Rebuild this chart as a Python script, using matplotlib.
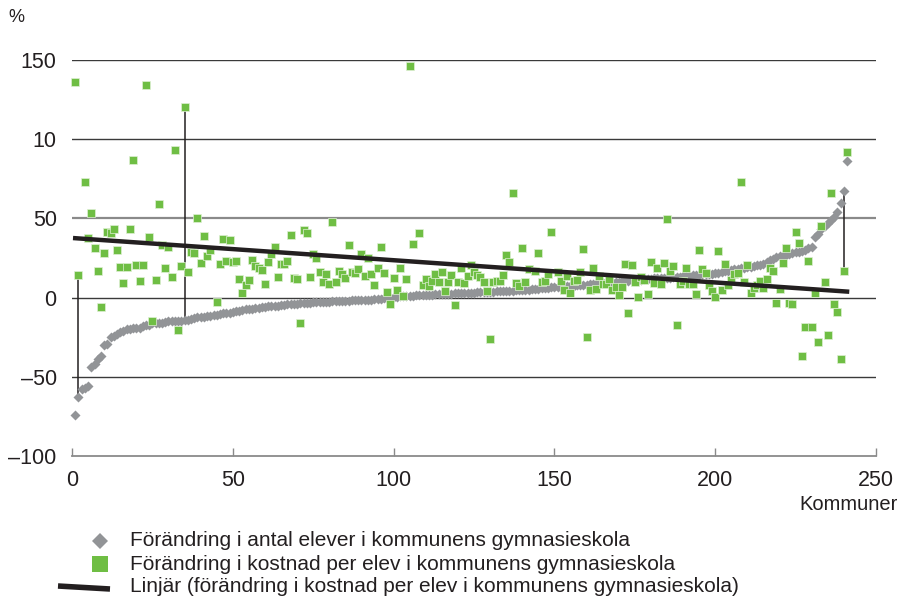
import numpy as np
from matplotlib import pyplot as plt

plt.rcParams['font.family'] = ['Liberation Sans', 'DejaVu Sans']

nan = np.nan

# förändring i antal elever (sorterad), kommun 1..241
elever = [
    -74, -63, -58, -57, -56, -44, -42, -39, -37, -30,
    -29, -25, -24, -23, -22, -21, -20, -20, -19, -19,
    -19, -18, -17, -17, -16, -16, -16, -16, -15.5, -15,
    -15, -15, -14.5, -14.5, -14, -14, -13.5, -13, -12.5, -12,
    -12, -11.5, -11.5, -11, -11, -10.5, -10, -9.5, -9.5, -9,
    -8.5, -8.5, -8, -7.5, -7.5, -7, -6.5, -6.5, -6, -6,
    -5.5, -5.5, -5, -5, -4.8, -4.5, -4.3, -4, -4, -3.8,
    -3.5, -3.4, -3.3, -3.2, -3, -3, -2.8, -2.7, -2.6, -2.5,
    -2.4, -2.3, -2.2, -2.1, -2, -1.9, -1.8, -1.7, -1.6, -1.5,
    -1.5, -1.4, -1.2, -1, -0.8, -0.6, -0.4, -0.2, 0, 0.3,
    0.6, 0.8, 1, 1.1, 1.2, 1.3, 1.4, 1.5, 1.6, 1.7,
    1.8, 1.9, 2, 2.1, 2.2, 2.3, 2.4, 2.5, 2.6, 2.7,
    2.8, 2.9, 3, 3.1, 3.2, 3.3, 3.4, 3.5, 3.6, 3.7,
    3.8, 3.9, 4, 4.1, 4.2, 4.3, 4.4, 4.5, 4.6, 4.7,
    4.8, 5, 5.2, 5.4, 5.6, 5.8, 6, 6.2, 6.4, 6.6,
    6.8, 7, 7.1, 7.3, 7.5, 7.6, 7.8, 8, 8.1, 8.2,
    8.4, 8.5, 8.6, 8.8, 9, 9.2, 9.4, 9.6, 9.8, 10,
    10.2, 10.4, 10.6, 10.8, 11, 11.2, 11.4, 11.6, 11.8, 12,
    12.1, 12.2, 12.3, 12.4, 12.5, 12.6, 12.8, 13, 13.2, 13.4,
    13.6, 13.8, 14, 14.2, 14.4, 14.6, 14.8, 15, 15.2, 15.5,
    15.8, 16.2, 16.6, 17, 17.4, 17.8, 18.2, 18.6, 19, 19.3,
    19.6, 20, 20.4, 20.8, 21.5, 22.5, 23.5, 24.5, 25.5, 26,
    26.5, 27, 27.5, 28, 28.5, 29, 29.5, 30, 31, 32,
    38, 40, 43, 45, 47, 49, 51, 54, 60, 67, 86,
]

# förändring i kostnad per elev, samma kommuner
kostnad = [
    136, 14, nan, 72.8, 37.9, 53.3, 31.6, 17, -6, 28,
    41.6, 40.6, 43, 30.3, 19.5, 9.4, 19.5, 43.5, 86.6, 20.3,
    10.7, 20.3, 134.3, 38.3, -14.9, 11.1, 59.2, 33, 19, 32,
    13.2, 92.9, -20.5, 19.9, 120.5, 16.2, 28.5, 28, 50.2, 21.8,
    38.7, 26.4, 30, nan, -2.9, 21.1, 37.2, 22.8, 36.4, 22.2,
    22.8, 11.5, 3.1, 7.7, 11.1, 23.6, 20.1, 18.8, 17.4, 8.6,
    22.4, 27.6, 32.2, 13, 21.5, 21.1, 23.4, 39.3, 12.1, 11.7,
    -16.1, 42.9, 41, 13.2, 27.8, 24.7, 16.1, 10, 14.9, 8.4,
    47.7, 9.6, 16.7, 14.9, 12.6, 33, 15.9, 15.7, 18.2, 27.6,
    13.8, 24.9, 14.9, 7.7, 19, 32, 15.5, 3.8, -4, 12.3,
    4.8, 19, 1.3, 11.5, 146.2, 33.9, nan, 41, 7.7, 11.7,
    7.1, 10.3, 15.1, 9.6, 16.3, 4, 9.8, 14.4, -4.4, 9.6,
    19, 9, 13.6, 20.5, 15.9, 14, 13.2, 9.6, 4, -26.4,
    10, 10.7, 10.5, 14.4, 27.2, 22.6, 66.1, 9, 7.1, 31.6,
    10, 18, nan, 17, 28.2, 9.6, 10.7, 14.6, 41.4, nan,
    16, 10.3, 5, 13.8, 2.9, 10.3, 11.1, 15.9, 30.8, -25.1,
    4.6, 18.4, 5.6, 13.6, 8.4, 8.6, 11.7, 5, 6.5, 1.7,
    6.5, 21.1, -10, 20.3, 10, 0.2, 13.2, 11.1, 2.3, 22.6,
    9.4, 18.4, 8.6, 21.8, 49.6, 16.7, 19.7, -17.4, 8.6, 10.7,
    19, 8.6, 8.6, 2.3, 30.1, 18, 15.7, 8.2, 4.2, 0.6,
    29.5, 4.6, 21.3, 7.7, 11.3, 14.9, 15.5, 73.2, 10, 20.3,
    2.7, 5.9, 7.7, 10.7, 6, 11.5, 19, 16.7, -3.3, 5.2,
    21.8, 31.2, -3.3, -4.2, 41.6, 34.3, -36.8, -18.4, 23, -18.4,
    3.1, -27.8, 45, 9.6, -23.4, 66.3, -3.8, -9.2, -38.7, 16.5, 91.7,
]

# linjär trend, värde vid första och sista kommunen
trend = [37.5, 3.8]

# kommuner som markeras med lodlinje
markerade = [2, 35, 240]

yticks = [-100, -50, 0, 50, 100, 150]
ytick_labels = ['–100', '–50', '0', '50', '10', '150']
xticks = [0, 50, 100, 150, 200, 250]

kommun = np.arange(1, len(elever) + 1)
elever = np.array(elever)
kostnad = np.array(kostnad)

GREEN = '#6fbe44'
GRAY = '#929497'
DARK = '#231f20'

fig = plt.figure(figsize=(9.02, 5.99), dpi=100)
ax = fig.add_axes([72 / 902, 1 - 456 / 599, 804 / 902, 396 / 599])
ax.set_xlim(0, 250)
ax.set_ylim(-100, 150)

# stödlinjer
for y in [150, 100, 0, -50]:
    ax.axhline(y, color='#3a3a3a', lw=1.0, zorder=1)
ax.axhline(50, color='#8a8a8a', lw=1.6, zorder=1)

for s in ['top', 'right', 'left']:
    ax.spines[s].set_visible(False)
ax.spines['bottom'].set_color('#8a8a8a')
ax.spines['bottom'].set_linewidth(1.3)

# lodlinjer
idx = np.array(markerade) - 1
lo = np.minimum(elever[idx], kostnad[idx])
hi = np.maximum(elever[idx], kostnad[idx])
ax.vlines(markerade, lo, hi, color=DARK, lw=1.1, zorder=2)

ax.scatter(kommun, elever, marker='D', s=26, color=GRAY, linewidths=0, zorder=3, clip_on=False)
ok = ~np.isnan(kostnad)
ax.scatter(kommun[ok], kostnad[ok], marker='s', s=32, color=GREEN, edgecolors='#dff0d4',
           linewidths=0.5, zorder=4, clip_on=False)

# linjär trend
ax.plot([kommun[0], kommun[-1]], trend, color=DARK, lw=3.2, zorder=5)

ax.set_yticks(yticks)
ax.set_yticklabels(ytick_labels)
ax.set_xticks(xticks)
ax.tick_params(axis='y', length=0, pad=11, labelsize=15.5, labelcolor='#231f20')
ax.tick_params(axis='x', direction='in', length=6, width=1, color='#8a8a8a', pad=10,
               labelsize=15.5, labelcolor='#231f20')

fig.text(8 / 902, 1 - 18 / 599, '%', fontsize=13, va='center', ha='left', color='#231f20')
fig.text(898 / 902, 1 - 505 / 599, 'Kommuner', fontsize=14.5, va='center', ha='right', color='#231f20')

# förklaring
lg = fig.add_axes([0, 0, 1, 1])
lg.set_xlim(0, 902)
lg.set_ylim(599, 0)
lg.axis('off')
lg.plot([100], [541], marker='D', ms=8.5, color=GRAY, mew=0)
lg.plot([100], [564], marker='s', ms=12, color=GREEN, mew=0)
lg.plot([58, 110], [586, 589], color=DARK, lw=4, solid_capstyle='butt')
texter = ['Förändring i antal elever i kommunens gymnasieskola',
          'Förändring i kostnad per elev i kommunens gymnasieskola',
          'Linjär (förändring i kostnad per elev i kommunens gymnasieskola)']
for i, t in enumerate(texter):
    lg.text(130, 541 + 23 * i, t, fontsize=15, va='center', ha='left', color='#231f20')

fig.savefig('out.png', dpi=100)
